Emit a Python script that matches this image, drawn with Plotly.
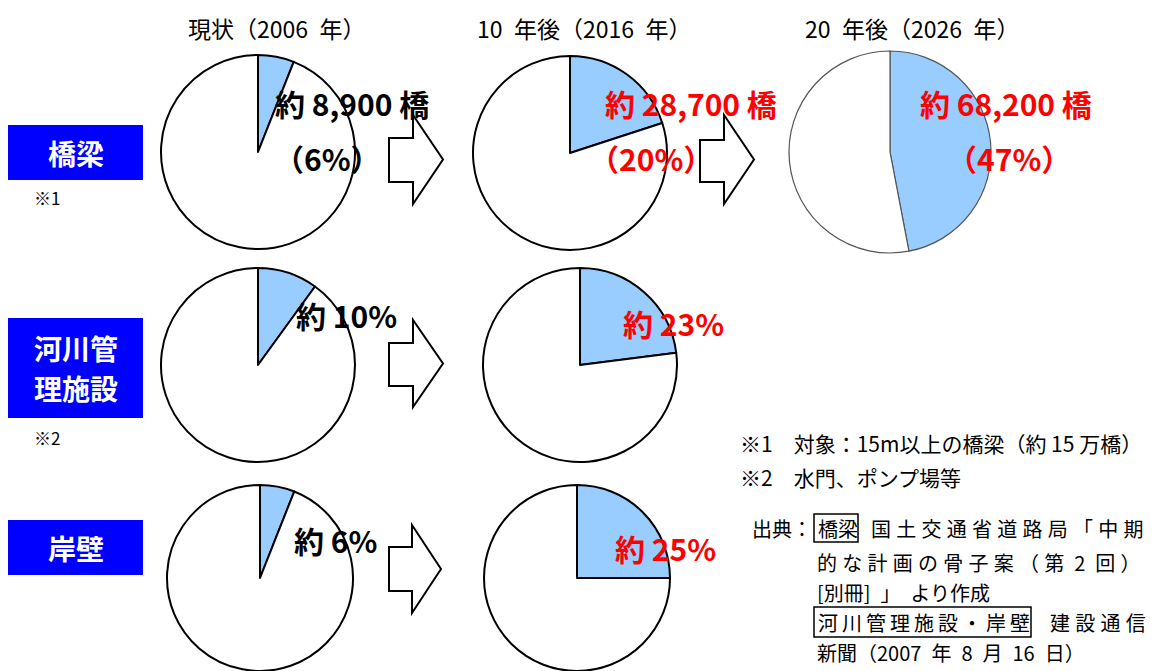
import plotly.graph_objects as go

W, H = 1155, 671
FONT = "Noto Sans CJK JP"

# ---- data ----
periods = ["現状（2006 年）", "10 年後（2016 年）", "20 年後（2026 年）"]
categories = ["橋梁", "河川管理施設", "岸壁"]
bridge_pct = [6, 20, 47]
river_pct = [10, 23]
quay_pct = [6, 25]
bridge_counts = ["約 8,900 橋", "約 28,700 橋", "約 68,200 橋"]
notes = ["※1", "※2", ""]

def px(x):
    return x / W

def py(y):
    return 1 - y / H

fig = go.Figure()

# pie layout: (row, col) -> center and radius in pixels
centers = {
    (0, 0): (258, 152, 97), (0, 1): (570, 153, 97), (0, 2): (890, 152, 101),
    (1, 0): (258, 365, 97), (1, 1): (580, 365, 97),
    (2, 0): (260, 578, 93), (2, 1): (577, 578, 93),
}
series = [bridge_pct, river_pct, quay_pct]
for r, vals in enumerate(series):
    for c, p in enumerate(vals):
        cx, cy, rad = centers[(r, c)]
        thin = (r, c) == (0, 2)
        fig.add_trace(go.Pie(
            values=[p, 100 - p], labels=["対象", "その他"], sort=False,
            direction="clockwise", rotation=0, textinfo="none",
            hoverinfo="skip", showlegend=False,
            marker=dict(colors=["#99CCFF", "#FFFFFF"],
                        line=dict(color="#555555" if thin else "#000000",
                                  width=1.2 if thin else 2)),
            domain=dict(x=[px(cx - rad), px(cx + rad)], y=[py(cy + rad), py(cy - rad)]),
        ))

shapes = []
annotations = []

def text(x, y, t, size, color="black", anchor="left", bold=False):
    annotations.append(dict(x=px(x), y=py(y), text=("<b>" + t + "</b>") if bold else t,
                            showarrow=False, font=dict(family=FONT, size=size, color=color),
                            xanchor=anchor, yanchor="middle"))

# period headers
for x, t in zip([277, 585, 912], periods):
    text(x, 28, t.replace(" ", "\u2002"), 23, anchor="center")

# category boxes
boxes = [(125, 180), (318, 418), (520, 575)]
cat_lines = [["橋梁"], ["河川管", "理施設"], ["岸壁"]]
for (y0, y1), lines in zip(boxes, cat_lines):
    shapes.append(dict(type="rect", x0=px(8), x1=px(143), y0=py(y1), y1=py(y0),
                       xref="paper", yref="paper", fillcolor="#0000FF", line=dict(width=0)))
    n = len(lines)
    mid = (y0 + y1) / 2
    for i, ln in enumerate(lines):
        text(76, mid + (i - (n - 1) / 2) * 40, ln, 28, color="white", anchor="center", bold=True)
for y, n in zip([197, 437], notes[:2]):
    text(32, y, n, 17)

# arrows
def arrow(x0, xh, xt, ys0, ys1, yh0, yh1):
    yt = (yh0 + yh1) / 2
    pts = [(x0, ys0), (xh, ys0), (xh, yh0), (xt, yt), (xh, yh1), (xh, ys1), (x0, ys1)]
    path = "M " + " L ".join(f"{px(a):.5f},{py(b):.5f}" for a, b in pts) + " Z"
    shapes.append(dict(type="path", path=path, xref="paper", yref="paper",
                       fillcolor="white", line=dict(color="black", width=2)))

arrow(389, 413, 443, 138, 182, 115, 204)
arrow(700, 724, 754, 140, 182, 115, 204)
arrow(389, 413, 443, 343, 386, 320, 407)
arrow(389, 412, 441, 547, 591, 525, 613)

# value labels
red = "#FF0000"
BIG = 30
text(352, 103, bridge_counts[0], BIG, anchor="center", bold=True)
text(327, 158, f"（{bridge_pct[0]}%）", BIG, anchor="center", bold=True)
text(691, 103, bridge_counts[1], BIG, red, anchor="center", bold=True)
text(651, 158, f"（{bridge_pct[1]}%）", BIG, red, anchor="center", bold=True)
text(1006, 103, bridge_counts[2], BIG, red, anchor="center", bold=True)
text(1009, 158, f"（{bridge_pct[2]}%）", BIG, red, anchor="center", bold=True)
text(346, 315, f"約 {river_pct[0]}%", BIG, anchor="center", bold=True)
text(673, 323, f"約 {river_pct[1]}%", BIG, red, anchor="center", bold=True)
text(335, 540, f"約 {quay_pct[0]}%", BIG, anchor="center", bold=True)
text(665, 548, f"約 {quay_pct[1]}%", BIG, red, anchor="center", bold=True)

# notes
en = "\u2002"
g = "\u2009\u200a"
t = "\u2009"
text(738, 443, "※1" + en * 2 + "対象：15m以上の橋梁（約 15 万橋）", 21)
text(738, 477, "※2" + en * 2 + "水門、ポンプ場等", 21)
NS = 20
text(750, 528, "出典：", NS)
text(816, 528, "橋梁", NS)
text(869, 528, g.join("国土交通省道路局「中期"), NS)
text(815, 562, g.join("的な計画の骨子案（第") + en + "2" + en + "回" + g + "）", NS)
text(815, 592, "[別冊]" + en + "」" + en + "より作成", NS)
text(816, 622, t.join("河川管理施設・岸壁"), NS)
text(1048, 622, g.join("建設通信"), NS)
text(815, 652, "新聞（2007" + en + "年" + en + "8" + en + "月" + en + "16" + en + "日）", NS)
shapes.append(dict(type="rect", xref="paper", yref="paper", x0=px(814), x1=px(858),
                   y0=py(542), y1=py(514), line=dict(color="black", width=1.5)))
shapes.append(dict(type="rect", xref="paper", yref="paper", x0=px(814), x1=px(1031),
                   y0=py(637), y1=py(607), line=dict(color="black", width=1.5)))

fig.update_layout(width=W, height=H, margin=dict(l=0, r=0, t=0, b=0),
                  paper_bgcolor="white", plot_bgcolor="white",
                  shapes=shapes, annotations=annotations, showlegend=False)
fig.write_html("out.html", config={"displayModeBar": False},
               post_script="document.body.style.margin='0';")
